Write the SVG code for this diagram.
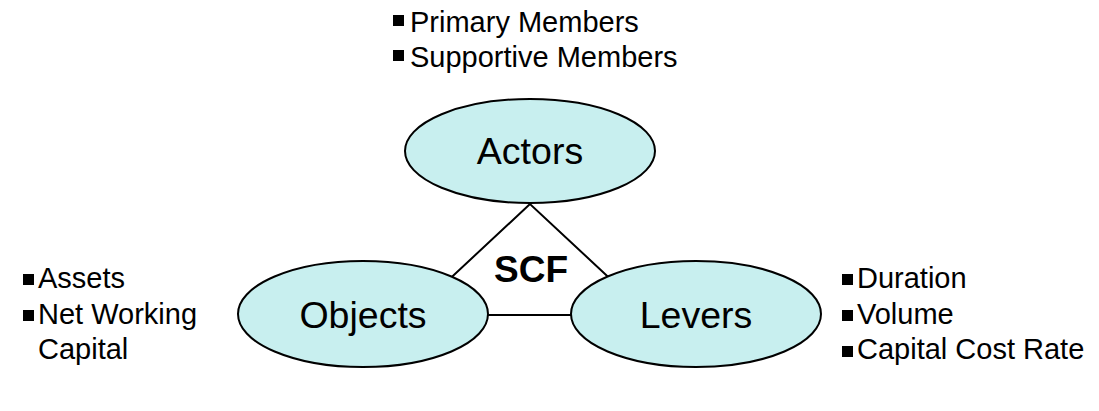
<svg xmlns="http://www.w3.org/2000/svg" width="1099" height="411" viewBox="0 0 1099 411">
<style>
.node{fill:#c8efef;stroke:#000;stroke-width:2}
.lbl{font-family:"Liberation Sans",Arial,sans-serif;font-size:37.5px;fill:#000;text-anchor:middle}
.scf{font-family:"Liberation Sans",Arial,sans-serif;font-size:37px;font-weight:bold;fill:#000;text-anchor:middle}
.bl{font-family:"Liberation Sans",Arial,sans-serif;font-size:29px;fill:#000}
.conn{fill:#fff;stroke:#000;stroke-width:2}
</style>
<rect width="1099" height="411" fill="#fff"/>
<g id="connectors">
<polygon class="conn" points="530,204 411,315 649,315"/>
</g>
<g id="scf">
<text class="scf" x="531" y="282">SCF</text>
</g>
<g id="actors">
<ellipse class="node" cx="530" cy="151" rx="125" ry="52"/>
<text class="lbl" x="530" y="164">Actors</text>
</g>
<g id="objects">
<ellipse class="node" cx="363" cy="314" rx="125" ry="53"/>
<text class="lbl" x="363" y="328">Objects</text>
</g>
<g id="levers">
<ellipse class="node" cx="696" cy="314" rx="125" ry="53"/>
<text class="lbl" x="696" y="328">Levers</text>
</g>
<g id="actors-list">
<rect x="393" y="15" width="11" height="11"/>
<text class="bl" x="410" y="32">Primary Members</text>
<rect x="393" y="50" width="11" height="11"/>
<text class="bl" x="410" y="67">Supportive Members</text>
</g>
<g id="objects-list">
<rect x="23" y="274" width="11" height="11"/>
<text class="bl" x="38" y="288">Assets</text>
<rect x="23" y="310" width="11" height="11"/>
<text class="bl" x="38" y="324">Net Working</text>
<text class="bl" x="38" y="359">Capital</text>
</g>
<g id="levers-list">
<rect x="842" y="274" width="11" height="11"/>
<text class="bl" x="857" y="288">Duration</text>
<rect x="842" y="310" width="11" height="11"/>
<text class="bl" x="857" y="324">Volume</text>
<rect x="842" y="346" width="11" height="11"/>
<text class="bl" x="857" y="359">Capital Cost Rate</text>
</g>
</svg>
